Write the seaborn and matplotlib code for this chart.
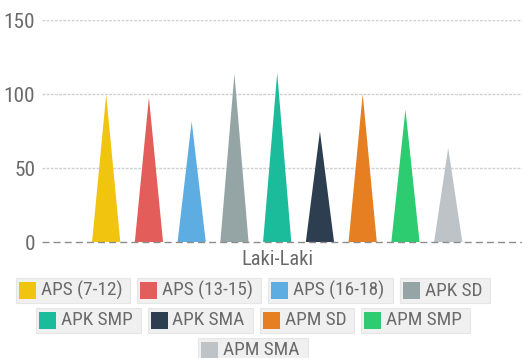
import numpy as np
import pandas as pd
import seaborn as sns
import matplotlib.pyplot as plt
from matplotlib import font_manager
from matplotlib.patches import Polygon, Rectangle

# data
category = ['Laki-Laki']
series = ['APS (7-12)', 'APS (13-15)', 'APS (16-18)', 'APK SD', 'APK SMP',
          'APK SMA', 'APM SD', 'APM SMP', 'APM SMA']
values = [99.5, 97.7, 81.5, 113.7, 114.2, 74.8, 100.0, 89.5, 63.6]
colors = ['#f1c40f', '#e35d5b', '#5dade2', '#95a5a6', '#1abc9c',
          '#2c3e50', '#e67e22', '#2ecc71', '#bdc3c7']
yticks = [0, 50, 100, 150]

W, H = 522, 358
sns.set_theme(style='white')

# the reference uses a narrow sans; use one if it is installed
installed = {f.name for f in font_manager.fontManager.ttflist}
narrow = [f for f in ['Liberation Sans Narrow', 'DejaVu Sans Condensed', 'Roboto Condensed']
          if f in installed]
if narrow:
    plt.rcParams['font.family'] = [narrow[0], 'DejaVu Sans']
    k = {'Liberation Sans Narrow': 1.0, 'DejaVu Sans Condensed': 0.95}.get(narrow[0], 1.02)
    fs_tick, fs_cat, fs_leg = 15 * k, 14.5 * k, 13.6 * k
else:
    plt.rcParams['font.family'] = ['Liberation Sans', 'DejaVu Sans']
    fs_tick, fs_cat, fs_leg = 12.8, 12.4, 11.6

df = pd.DataFrame({'kategori': category * len(series), 'seri': series, 'nilai': values})

fig = plt.figure(figsize=(W / 100, H / 100), dpi=100)
ax = fig.add_axes([42 / W, 1 - 242 / H, (W - 42) / W, 222 / H])

sns.barplot(data=df, x='kategori', y='nilai', hue='seri', hue_order=series,
            palette=colors, gap=0.34, ax=ax, legend=False, saturation=1)

# turn the bars into triangles (pictorial bar)
for p in list(ax.patches):
    x0, w, h = p.get_x(), p.get_width(), p.get_height()
    tri = Polygon([(x0, 0), (x0 + w / 2, h), (x0 + w, 0)], closed=True,
                  facecolor=p.get_facecolor(), edgecolor='none', zorder=3)
    ax.add_patch(tri)
    p.remove()

ax.set_ylim(0, 150)
ax.set_xlim(-0.489, 0.509)
ax.set_yticks(yticks)
ax.set_yticklabels([str(t) for t in yticks], fontsize=fs_tick, color='#6a6a6a')
ax.set_xticks([0])
ax.set_xticklabels(category, fontsize=fs_cat, color='#6a6a6a')
ax.tick_params(axis='y', length=0, pad=5)
ax.tick_params(axis='x', length=0, pad=6)
ax.set_xlabel('')
ax.set_ylabel('')
for s in ax.spines.values():
    s.set_visible(False)
for t in yticks[1:]:
    ax.axhline(t, color='#d0d0d0', lw=1, ls=(0, (2, 1)), zorder=1)
ax.axhline(0, color='#8c8c8c', lw=1, ls=(0, (5, 3)), zorder=4, clip_on=False)

# legend: each item in its own grey box, rows centred
ov = fig.add_axes([0, 0, 1, 1], facecolor='none')
ov.set_xlim(0, W)
ov.set_ylim(H, 0)
ov.axis('off')
renderer = fig.canvas.get_renderer()

rows = [[0, 1, 2, 3], [4, 5, 6, 7], [8]]
row_y = [290.5, 320, 350]
sq, pad_l, gap_t, pad_r, box_h, gap_b = 17, 3, 5, 8, 25, 7
cx = 253

for r, idx in enumerate(rows):
    widths = []
    texts = []
    for i in idx:
        t = ov.text(0, row_y[r], series[i], fontsize=fs_leg, color='#6a6a6a',
                    va='center', ha='left')
        bb = t.get_window_extent(renderer)
        texts.append(t)
        widths.append(pad_l + sq + gap_t + bb.width + pad_r)
    total = sum(widths) + gap_b * (len(idx) - 1)
    x = cx - total / 2
    for i, t, bw in zip(idx, texts, widths):
        ov.add_patch(Rectangle((x, row_y[r] - box_h / 2), bw, box_h,
                               facecolor='#f0f0f0', edgecolor='#e6e6e6', lw=0.8))
        ov.add_patch(Rectangle((x + pad_l, row_y[r] - sq / 2), sq, sq,
                               facecolor=colors[i], edgecolor='none'))
        t.set_x(x + pad_l + sq + gap_t)
        x += bw + gap_b

fig.savefig('out.png', dpi=100)
